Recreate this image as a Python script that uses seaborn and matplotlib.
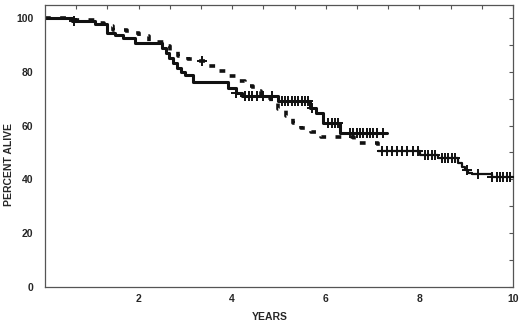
import numpy as np
import pandas as pd
import matplotlib
matplotlib.use("Agg")
import matplotlib.pyplot as plt
import seaborn as sns

# ---- data ----
# group A (solid line)
t_a = [0, 0.58, 1.07, 1.32, 1.50, 1.67, 1.92, 2.50, 2.58, 2.66, 2.74, 2.82, 2.90,
       2.99, 3.16, 3.91, 4.08, 4.20, 4.98, 5.66, 5.80, 5.94, 6.30, 7.31]
s_a = [100, 99.0, 97.6, 94.5, 93.7, 92.4, 90.6, 88.7, 86.9, 85.0, 83.2, 81.3, 80.0,
       78.8, 76.0, 73.9, 72.2, 70.8, 69.3, 66.5, 64.5, 61.0, 57.2, 57.2]
cens_a = [0.62, 4.08, 4.27, 4.35, 4.42, 4.53, 4.66, 4.85, 5.06, 5.13, 5.19, 5.28,
          5.34, 5.41, 5.49, 5.56, 5.62, 5.71, 6.05, 6.13, 6.20, 6.26, 6.52, 6.58,
          6.67, 6.73, 6.79, 6.88, 6.94, 7.01, 7.09, 7.22]

# group B (dotted line, solid after the last dotted step)
t_b = [0, 0.64, 1.07, 1.25, 1.45, 1.75, 2.00, 2.22, 2.55, 2.67, 2.84, 3.05, 3.30,
       3.50, 3.70, 3.88, 4.08, 4.28, 4.45, 4.62, 4.82, 4.98, 5.14, 5.30, 5.47, 5.68,
       5.90, 6.60, 7.12, 8.01, 8.40, 8.82, 8.91, 8.97, 9.04, 9.12, 9.55, 10.0]
s_b = [100, 99.3, 98.2, 97.0, 95.5, 94.3, 93.3, 91.0, 89.5, 87.8, 85.8, 84.9, 83.9,
       82.0, 80.4, 78.3, 76.7, 74.6, 72.8, 70.4, 68.3, 66.1, 63.6, 61.1, 59.0, 57.7,
       55.9, 53.4, 50.7, 49.2, 47.8, 46.0, 44.7, 43.5, 42.5, 42.0, 41.0, 41.0]
b_solid_from = 7.12
cens_b = [3.35, 7.20, 7.31, 7.41, 7.52, 7.63, 7.74, 7.86, 7.97, 8.12, 8.18, 8.27,
          8.33, 8.48, 8.55, 8.61, 8.70, 8.76, 9.02, 9.25, 9.55, 9.66, 9.72, 9.79,
          9.87, 9.94]

x_ticks = [2, 4, 6, 8, 10]
y_ticks = [0, 20, 40, 60, 80, 100]


def step_at(ts, ss, c):
    ts = np.asarray(ts)
    idx = np.searchsorted(ts, c, side="right") - 1
    return np.asarray(ss)[idx]


sns.set_style("white")
plt.rcParams["font.family"] = ["Liberation Sans", "DejaVu Sans"]
plt.rcParams["font.weight"] = "bold"

fig = plt.figure(figsize=(5.2, 3.22), dpi=100)
ax = fig.add_axes([45 / 520, 1 - 287 / 322, 468 / 520, 282 / 322])

df_a = pd.DataFrame({"t": t_a, "s": s_a})
df_b = pd.DataFrame({"t": t_b, "s": s_b})
df_b1 = df_b[df_b.t <= b_solid_from]
df_b2 = df_b[df_b.t >= b_solid_from]

ink = "#111111"
sns.lineplot(data=df_b1, x="t", y="s", ax=ax, drawstyle="steps-post", color=ink,
             lw=2.6, estimator=None, sort=False, dashes=False,
             linestyle=(0, (1.6, 2.6)))
sns.lineplot(data=df_b2, x="t", y="s", ax=ax, drawstyle="steps-post", color=ink,
             lw=1.6, estimator=None, sort=False)
sns.lineplot(data=df_a, x="t", y="s", ax=ax, drawstyle="steps-post", color=ink,
             lw=2.2, estimator=None, sort=False)

ca = pd.DataFrame({"t": cens_a, "s": step_at(t_a, s_a, np.array(cens_a))})
cb = pd.DataFrame({"t": cens_b, "s": step_at(t_b, s_b, np.array(cens_b))})
for d in (ca, cb):
    sns.scatterplot(data=d, x="t", y="s", ax=ax, marker="+", s=55, color=ink,
                    linewidth=1.4, zorder=5)

ax.set_xlim(0, 10)
ax.set_ylim(0, 104.8)
ax.set_xticks(x_ticks)
ax.set_xticklabels([str(v) for v in x_ticks])
ax.set_xticks([k * 2 / 3 for k in range(1, 15) if k % 3 != 0], minor=True)
ax.set_yticks(y_ticks)
ax.set_yticklabels([str(v) for v in y_ticks])
ax.set_yticks([10, 30, 50, 70, 90], minor=True)

for which in ("major", "minor"):
    ax.tick_params(axis="both", which=which, direction="in", length=3, width=0.8,
                   color="#555555", top=True, right=True, labelsize=7.5)
ax.tick_params(axis="x", which="major", pad=5)
ax.tick_params(axis="y", which="major", pad=8.5)
for lab in ax.get_xticklabels() + ax.get_yticklabels():
    lab.set_fontweight("bold")

for sp in ax.spines.values():
    sp.set_color("#555555")
    sp.set_linewidth(0.9)

ax.set_xlabel("YEARS", fontsize=7.5, fontweight="bold")
ax.set_ylabel("PERCENT ALIVE", fontsize=7.5, fontweight="bold")
ax.xaxis.set_label_coords(0.48, -0.088)
ax.yaxis.set_label_coords(-0.066, 0.433)

fig.savefig("out.png", dpi=100)
